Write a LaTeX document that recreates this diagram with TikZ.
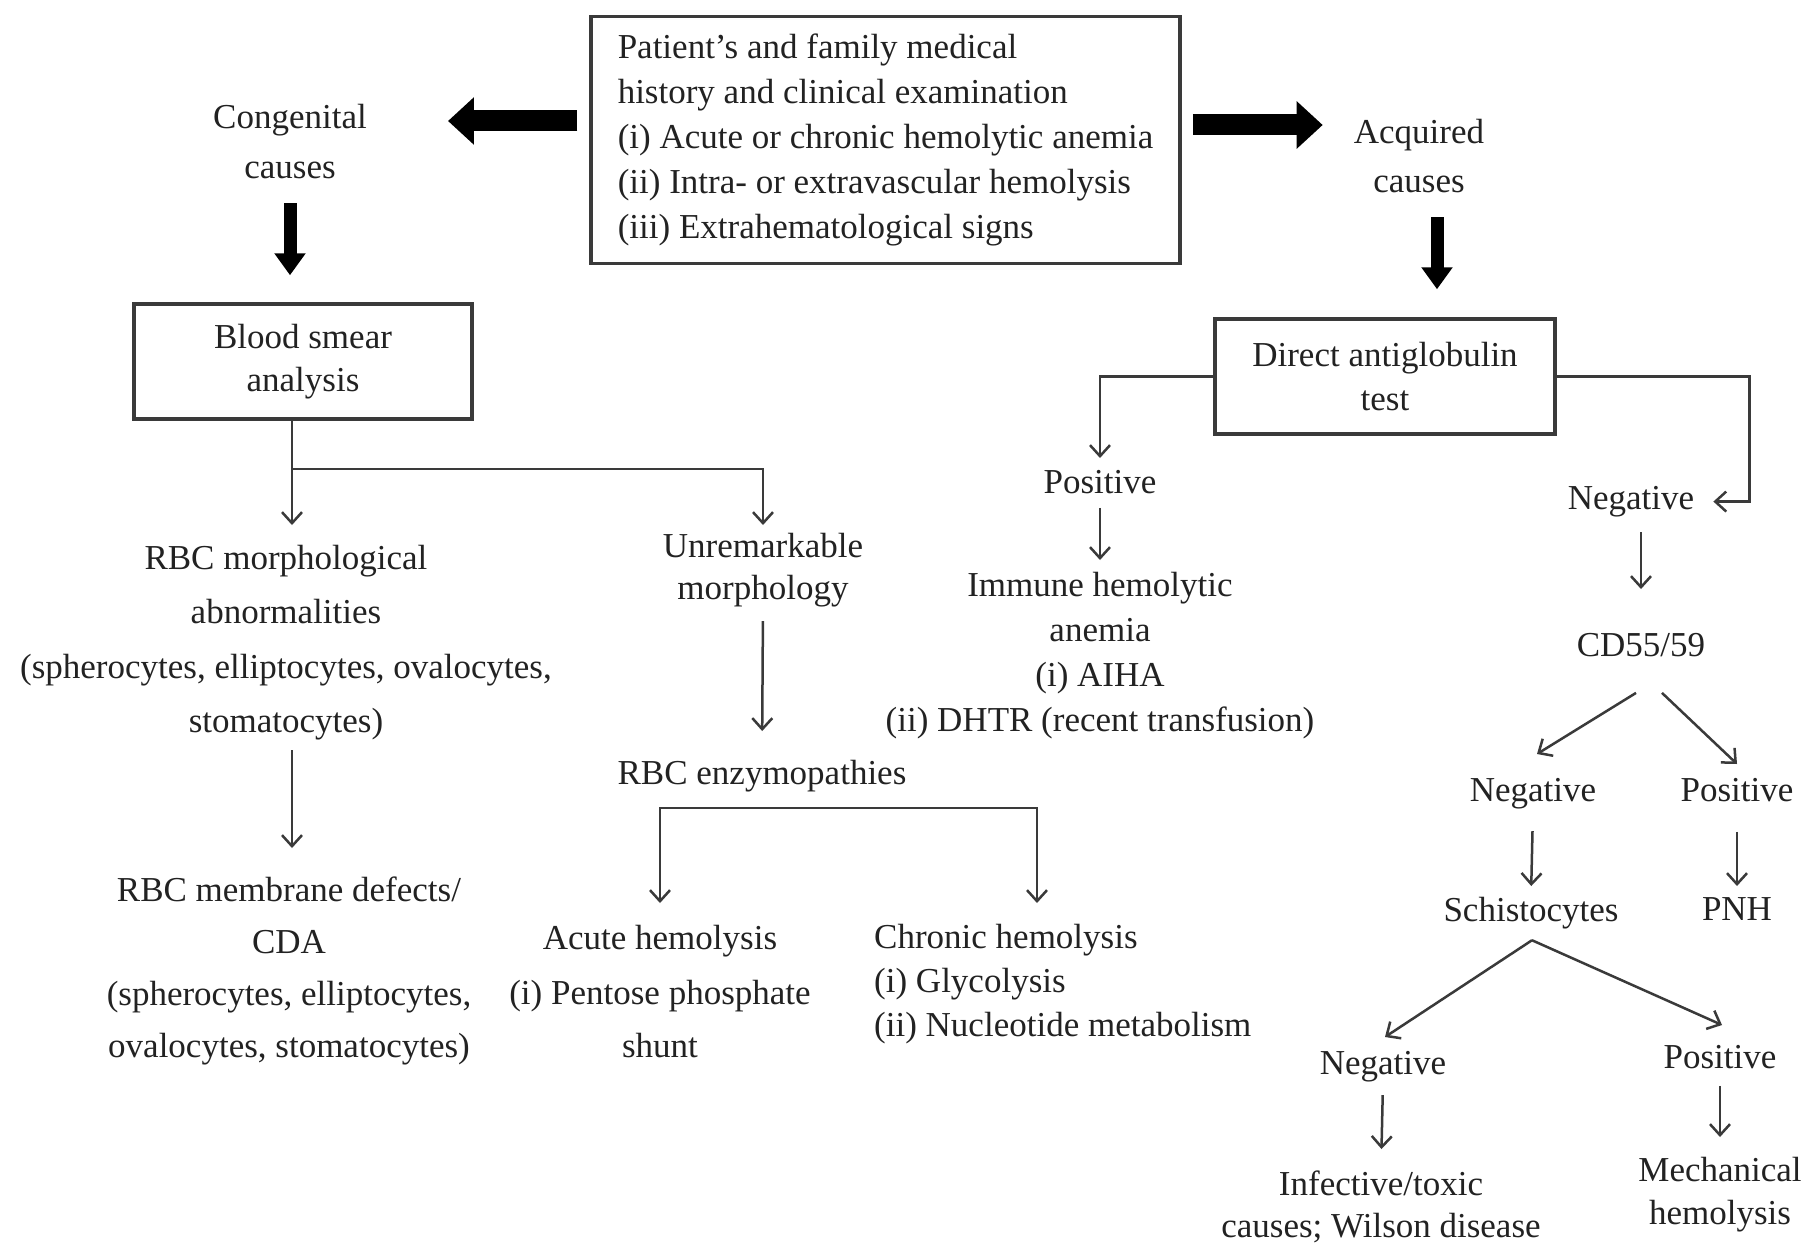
\documentclass[tikz,border=0pt]{standalone}
\usepackage{fontspec}
\setmainfont{Liberation Serif}
\usetikzlibrary{arrows.meta,calc}
\definecolor{inkgray}{HTML}{222222}
\definecolor{linegray}{HTML}{3A3A3A}
\begin{document}
\begin{tikzpicture}
  [x=1pt,y=-1pt,
   every node/.style={inner sep=0pt,align=center,text=inkgray,font=\fontsize{35}{44}\selectfont},
   box/.style={draw=linegray,line width=3.5pt},
   lbl/.style={anchor=north},
   arr/.style={draw=linegray,line width=2.5pt,-{Straight Barb[length=11pt,width=20pt]}},
   fatH/.style={draw=black,line width=21pt,-{Triangle[length=26pt,width=46pt]}},
   fatV/.style={draw=black,line width=13pt,-{Triangle[length=22pt,width=30pt]}}]
  \path[use as bounding box,fill=white] (0,0) rectangle (1810,1244);

  \node[box,minimum width=589pt,minimum height=247pt,align=left] (hist) at (885.5,140)
    {Patient's and family medical\\[1pt]history and clinical examination\\[1pt](i) Acute or chronic hemolytic anemia\\[1pt](ii) Intra- or extravascular hemolysis\\[1pt](iii) Extrahematological signs};
  \node[lbl] (cong) at (290,104) {Congenital\\[6pt]causes};
  \node[lbl] (acq) at (1419,119) {Acquired\\[5pt]causes};

  \node[box,minimum width=338pt,minimum height=115pt] (blood) at (303,361.5) {Blood smear\\[-1pt]analysis};
  \node[lbl] (morph) at (286,545) {RBC morphological\\[10pt]abnormalities\\[11pt](spherocytes, elliptocytes, ovalocytes,\\[10pt]stomatocytes)};
  \node[lbl] (memb) at (289,877) {RBC membrane defects/\\[8pt]CDA\\[8pt](spherocytes, elliptocytes,\\[8pt]ovalocytes, stomatocytes)};
  \node[lbl] (unrem) at (763,533) {Unremarkable\\[-2pt]morphology};
  \node[lbl] (enzy) at (762,760) {RBC enzymopathies};
  \node[lbl] (acute) at (660,925) {Acute hemolysis\\[11pt](i) Pentose phosphate\\[9pt]shunt};
  \node[anchor=north west,align=left] (chron) at (874,924) {Chronic hemolysis\\(i) Glycolysis\\(ii) Nucleotide metabolism};

  \node[box,minimum width=340pt,minimum height=115pt] (dat) at (1385,376.5) {Direct antiglobulin\\test};
  \node[lbl] (pos) at (1100,470) {Positive};
  \node[lbl] (immune) at (1100,572) {Immune hemolytic\\[1pt]anemia\\[1pt](i) AIHA\\[1pt](ii) DHTR (recent transfusion)};
  \node[lbl] (neg) at (1631,486) {Negative};
  \node[lbl] (cd) at (1641,633) {CD55/59};
  \node[lbl] (negb) at (1533,778) {Negative};
  \node[lbl] (posb) at (1737,778) {Positive};
  \node[lbl] (schis) at (1531,897) {Schistocytes};
  \node[lbl] (pnh) at (1737,897) {PNH};
  \node[lbl] (negc) at (1383,1051) {Negative};
  \node[lbl] (posc) at (1720,1045) {Positive};
  \node[lbl] (infect) at (1381,1171) {Infective/toxic\\[-2pt]causes; Wilson disease};
  \node[lbl] (mech) at (1720,1157) {Mechanical\\[-1pt]hemolysis};

  \coordinate (bsplit) at (292,469);
  \coordinate (esplit) at (762,808);
  \coordinate (acqdown) at ($(acq.south)+(18,0)$);

  \draw[fatH,shorten <=12pt,shorten >=81pt] (hist.west |- 0,121) -- (cong.east |- 0,121);
  \draw[fatH,shorten <=11pt,shorten >=31pt] (hist.east |- 0,125) -- (acq.west |- 0,125);
  \draw[fatV,shorten <=24pt,shorten >=27pt] (cong.south) -- (cong.south |- blood.north);
  \draw[fatV,shorten <=24pt,shorten >=28pt] (acqdown) -- (acqdown |- dat.north);

  \draw[draw=linegray,line width=2.5pt] (blood.south -| bsplit) -- (bsplit);
  \draw[arr,shorten >=20pt] (bsplit) -- (bsplit |- morph.north);
  \draw[arr,shorten >=8pt] (bsplit) -| (unrem.north);
  \draw[arr,shorten <=10pt,shorten >=29pt] (morph.south -| bsplit) -- (bsplit |- memb.north);
  \draw[arr,shorten <=14pt,shorten >=29pt] (unrem.south) -- (enzy.north);
  \draw[arr,shorten >=22pt] (esplit) -| (acute.north);
  \draw[arr,shorten >=21pt] (esplit) -| ($(chron.north west)+(163,0)$);

  \draw[arr,shorten >=12pt] (dat.west) -| (pos.north);
  \draw[arr,shorten >=19pt] (dat.east) -| ($(neg.east)+(55,0)$) -- (neg.east);
  \draw[arr,shorten <=14pt,shorten >=12pt] (pos.south) -- (immune.north);
  \draw[arr,shorten <=15pt,shorten >=44pt] (neg.south -| cd.north) -- (cd.north);
  \draw[arr] ($(cd.south)+(-5,36)$) -- ($(negb.north)+(4,-24)$);
  \draw[arr] ($(cd.south)+(21,36)$) -- ($(posb.north)+(0,-14)$);
  \draw[arr,shorten <=22pt,shorten >=11pt] (negb.south) -- (schis.north);
  \draw[arr,shorten <=30pt,shorten >=11pt] (posb.south) -- (pnh.north);
  \draw[arr] ($(schis.south)+(1,11)$) -- ($(negc.north)+(2,-14)$);
  \draw[arr] ($(schis.south)+(1,11)$) -- ($(posc.north)+(2,-20)$);
  \draw[arr,shorten <=13pt,shorten >=22pt] (negc.south) -- (infect.north);
  \draw[arr,shorten <=17pt,shorten >=20pt] (posc.south) -- (mech.north);
\end{tikzpicture}
\end{document}
